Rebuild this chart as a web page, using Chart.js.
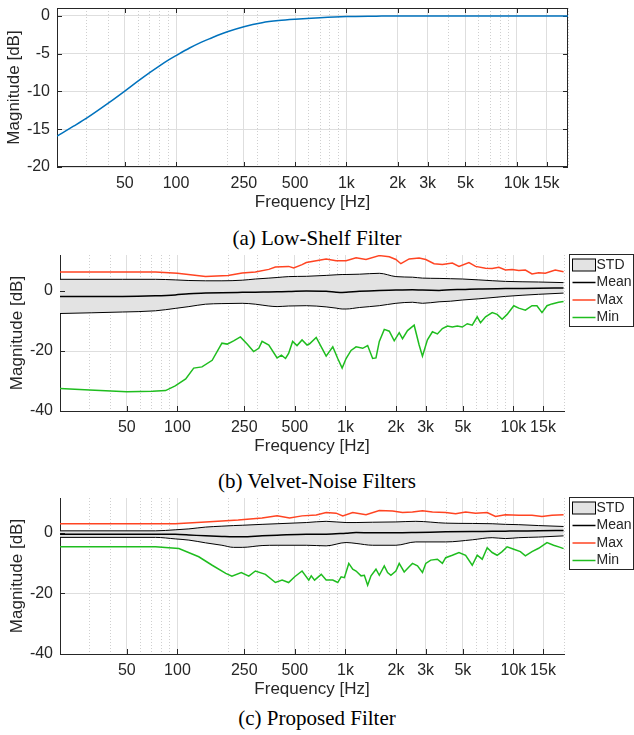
<!DOCTYPE html>
<html>
<head>
<meta charset="utf-8">
<script src="https://cdn.jsdelivr.net/npm/chart.js@4.4.1/dist/chart.umd.min.js"></script>
<style>
  html, body { margin: 0; padding: 0; background: #fff; }
  #page { position: relative; width: 634px; height: 735px; overflow: hidden; background: #fff; }
  .plot { position: absolute; left: 0; }
  .caption { position: absolute; left: 0; width: 634px; text-align: center; font-family: "Liberation Serif", "DejaVu Serif", serif; font-size: 21px; line-height: 24px; color: #000; }
</style>
</head>
<body>
<div id="page">
  <canvas class="plot" id="chart-a" width="634" height="215" style="top:0px"></canvas>
  <div class="caption" style="top:226px">(a) Low-Shelf Filter</div>
  <canvas class="plot" id="chart-b" width="634" height="214" style="top:245px"></canvas>
  <div class="caption" style="top:469px">(b) Velvet-Noise Filters</div>
  <canvas class="plot" id="chart-c" width="634" height="212" style="top:490px"></canvas>
  <div class="caption" style="top:706px">(c) Proposed Filter</div>
</div>
<script>
// axis ticks (Hz)
const majorTicks = [50, 100, 250, 500, 1000, 2000, 3000, 5000, 10000, 15000];
const majorLabels = ['50', '100', '250', '500', '1k', '2k', '3k', '5k', '10k', '15k'];
const minorTicks = [20, 30, 40, 60, 70, 80, 90, 200, 300, 400, 600, 700, 800, 900,
  4000, 6000, 7000, 8000, 9000, 20000];
const shelfYTicks = [-20, -15, -10, -5, 0];
const spreadYTicks = [-40, -20, 0];

// (a) low-shelf filter
const shelfFreq = [20, 25, 30, 40, 50, 60, 70, 80, 90, 100, 120, 140, 160, 200, 250, 320, 400, 500, 700, 1000, 1500, 2000, 5000, 20000];
const shelfMag = [-15.9, -14.6, -13.5, -11.55, -9.95, -8.6, -7.5, -6.6, -5.85, -5.25, -4.25, -3.5, -2.95, -2.1, -1.42, -0.9, -0.62, -0.44, -0.24, -0.09, -0.03, 0, 0, 0];

// (b) velvet-noise filters
const vnStdFreq = [20, 47, 74, 97, 117, 147, 184, 243, 291, 350, 392, 459, 585, 768, 880, 956, 1009, 1211, 1591, 1997, 2507, 2874, 3608, 4229, 4962, 6229, 8966, 14130, 19880];
const vnStdUpper = [3.9, 3.9, 3.9, 3.7, 3.5, 3.4, 3.4, 3.6, 4.0, 4.3, 4.5, 4.8, 4.9, 5.2, 5.4, 5.5, 5.5, 5.6, 5.9, 4.8, 4.6, 4.3, 4.2, 4.1, 4.0, 3.7, 3.2, 3.0, 2.8];
const vnMean = [-1.8, -1.8, -1.6, -1.3, -0.9, -0.7, -0.55, -0.45, -0.4, -0.3, -0.25, -0.2, 0, -0.1, -0.4, -0.5, -0.45, -0.1, 0.2, 0.3, 0.45, 0.3, 0.2, 0.4, 0.5, 0.7, 0.8, 0.9, 1.0];
const vnStdLower = [-7.5, -7.0, -6.6, -5.8, -5.2, -4.4, -4.2, -4.1, -4.4, -5.0, -5.2, -5.0, -4.9, -5.3, -5.7, -6.0, -6.0, -5.5, -4.9, -4.1, -3.75, -4.1, -3.6, -3.4, -3.0, -2.6, -1.8, -1.1, -0.7];
const vnMaxFreq = [20, 74, 100, 147, 200, 243, 291, 350, 383, 459, 492, 552, 585, 670, 768, 880, 1009, 1157, 1326, 1591, 1824, 1997, 2138, 2395, 2746, 3008, 3371, 3777, 4329, 4741, 5436, 5951, 6823, 7474, 8185, 8966, 9820, 10760, 11780, 12900, 14130, 15480, 17740, 19880];
const vnMax = [6.3, 6.3, 5.9, 4.8, 5.2, 6.0, 6.3, 7.2, 8.0, 8.2, 7.7, 8.8, 9.5, 10.1, 10.7, 10.1, 10.1, 11.1, 10.5, 11.8, 11.4, 10.5, 9.1, 10.7, 11.0, 10.5, 9.1, 8.8, 9.3, 8.2, 9.5, 8.2, 7.6, 7.5, 7.9, 7.0, 7.2, 6.8, 7.0, 5.7, 6.1, 5.9, 7.0, 6.4];
const vnMinFreq = [20, 30, 50, 71, 85, 97, 112, 125, 140, 161, 184, 198, 216, 237, 260, 284, 305, 319, 350, 392, 416, 440, 459, 485, 515, 552, 591, 612, 670, 718, 768, 841, 900, 956, 1009, 1080, 1157, 1267, 1356, 1452, 1520, 1591, 1703, 1824, 1952, 2090, 2187, 2342, 2565, 2746, 2874, 3077, 3295, 3527, 3777, 4044, 4329, 4634, 4962, 5312, 5687, 6088, 6372, 6823, 7474, 8002, 8566, 9173, 10050, 10760, 11780, 12900, 13800, 14790, 15840, 16950, 18570, 19880];
const vnMin = [-32.5, -33.0, -33.6, -33.4, -33.2, -31.6, -29.3, -25.7, -25.3, -23.1, -17.4, -17.7, -16.6, -15.3, -17.7, -20.2, -19.1, -16.8, -18.0, -22.3, -21.4, -22.5, -20.8, -16.8, -18.2, -16.3, -18.0, -17.6, -15.5, -18.6, -21.7, -18.6, -22.5, -25.7, -22.5, -19.8, -18.6, -19.1, -18.2, -22.5, -22.3, -16.8, -12.8, -13.4, -16.6, -13.9, -15.9, -13.2, -11.4, -18.0, -21.7, -16.3, -13.6, -14.3, -12.5, -11.7, -12.0, -11.7, -12.0, -10.9, -11.4, -8.6, -10.6, -8.6, -7.2, -7.8, -9.4, -7.8, -4.9, -5.7, -6.4, -4.9, -4.9, -7.2, -4.9, -4.3, -3.75, -3.5];

// (c) proposed filter
const pfStdFreq = [20, 74, 97, 117, 147, 184, 216, 243, 319, 392, 585, 768, 1009, 1157, 1452, 1997, 2624, 3952, 5687, 7474, 8966, 10760, 14130, 19880];
const pfStdUpper = [0.66, 0.66, 1.0, 1.3, 1.9, 2.2, 2.4, 2.5, 2.8, 3.0, 3.4, 3.8, 3.4, 3.4, 3.5, 3.6, 3.8, 3.2, 3.1, 3.0, 2.8, 2.7, 2.4, 2.1];
const pfMean = [-0.44, -0.44, -0.5, -0.7, -1.0, -1.2, -1.3, -1.3, -1.0, -0.8, -0.44, -0.44, -0.1, 0.1, 0.0, 0.0, 0.1, 0.33, 0.45, 0.5, 0.55, 0.6, 0.7, 0.77];
const pfStdLower = [-1.5, -1.5, -2.0, -2.4, -3.3, -4.1, -4.8, -4.8, -4.2, -4.1, -4.1, -4.3, -3.2, -3.5, -4.1, -4.1, -3.0, -3.0, -2.3, -1.6, -1.9, -1.6, -1.4, -1.0];
const pfMaxFreq = [20, 97, 147, 230, 319, 392, 465, 552, 670, 768, 880, 964, 1105, 1326, 1591, 1909, 2187, 2507, 2874, 3295, 3952, 4530, 5193, 5951, 6980, 7822, 8966, 10760, 12900, 14790, 16950, 19880];
const pfMax = [3.0, 3.0, 3.6, 4.2, 4.9, 5.6, 4.9, 5.6, 5.9, 6.7, 6.5, 5.6, 6.7, 6.0, 7.4, 7.2, 6.7, 6.9, 7.3, 6.9, 6.7, 6.3, 6.9, 6.5, 6.7, 5.4, 6.0, 5.8, 5.8, 5.4, 5.8, 6.0];
const pfMinFreq = [20, 74, 102, 134, 161, 194, 211, 240, 266, 291, 334, 383, 420, 459, 499, 552, 605, 626, 655, 718, 768, 841, 900, 943, 986, 1047, 1105, 1157, 1239, 1296, 1356, 1420, 1520, 1591, 1703, 1782, 1865, 1997, 2090, 2238, 2395, 2507, 2685, 2874, 3008, 3220, 3527, 3777, 3952, 4329, 4741, 5193, 5687, 6088, 6519, 6980, 7474, 8002, 8566, 9173, 10050, 11000, 11780, 12900, 14130, 15840, 17340, 19000, 19880];
const pfMin = [-4.6, -4.6, -5.2, -7.9, -10.7, -13.4, -14.3, -13.1, -14.3, -12.6, -13.7, -16.4, -15.6, -16.4, -14.5, -12.6, -15.6, -14.2, -15.6, -13.7, -15.6, -15.6, -16.4, -14.5, -14.8, -10.1, -12.0, -12.6, -14.2, -14.0, -17.3, -14.2, -12.0, -14.0, -10.9, -13.1, -14.0, -12.6, -10.1, -12.9, -11.2, -10.1, -10.9, -13.1, -10.1, -9.0, -8.7, -10.1, -8.2, -7.4, -6.5, -7.4, -10.7, -7.4, -8.7, -4.9, -6.5, -7.4, -6.2, -4.6, -5.4, -6.2, -7.6, -6.2, -5.1, -3.2, -4.1, -4.8, -5.2];

const textColor = '#262626';
const axisColor = '#262626';
const majorGrid = '#dedede';
const minorGrid = '#cfcfcf';
const stdFill = '#e3e3e3';
const maxColor = '#ff4422';
const minColor = '#1fbd1f';
const fontFamily = '"Liberation Sans", Arial, Helvetica, sans-serif';

const pts = (fs, vs) => fs.map((f, i) => ({ x: f, y: vs[i] }));
const isMajor = v => majorTicks.indexOf(v) >= 0;

// inward tick marks, and the closed box for plot (a)
const framePlugin = {
  id: 'frame',
  beforeDatasetsDraw(chart, args, opts) {
    const { ctx, chartArea: a, scales: { x, y } } = chart;
    ctx.save();
    ctx.strokeStyle = axisColor;
    ctx.lineWidth = 1;
    ctx.beginPath();
    majorTicks.forEach(v => {
      const px = Math.round(x.getPixelForValue(v)) + 0.5;
      ctx.moveTo(px, a.bottom); ctx.lineTo(px, a.bottom - 5);
      if (opts.box) { ctx.moveTo(px, a.top); ctx.lineTo(px, a.top + 5); }
    });
    y.ticks.forEach(t => {
      const py = Math.round(y.getPixelForValue(t.value)) + 0.5;
      ctx.moveTo(a.left, py); ctx.lineTo(a.left + 5, py);
      if (opts.box) { ctx.moveTo(a.right, py); ctx.lineTo(a.right - 5, py); }
    });
    ctx.stroke();
    if (opts.box) {
      ctx.strokeRect(Math.round(a.left) + 0.5, Math.round(a.top) + 0.5, Math.round(a.width) - 1, Math.round(a.height) - 1);
    }
    ctx.restore();
  }
};

// legend box to the right of the plot
const sideLegend = {
  id: 'sideLegend',
  afterDraw(chart, args, opts) {
    if (!opts.display) return;
    const { ctx, chartArea: a } = chart;
    const x0 = Math.round(a.right) + 5.5, y0 = Math.round(a.top) - 0.5;
    ctx.save();
    ctx.fillStyle = '#fff';
    ctx.fillRect(x0, y0, 64, 72);
    ctx.strokeStyle = axisColor;
    ctx.lineWidth = 1;
    ctx.strokeRect(x0, y0, 64, 72);
    ctx.font = '14px ' + fontFamily;
    ctx.textBaseline = 'middle';
    let row = 0;
    chart.data.datasets.forEach(ds => {
      if (!ds.label) return;
      const cy = y0 + 10.5 + row * 17.5;
      if (ds.fill) {
        ctx.fillStyle = ds.backgroundColor;
        ctx.fillRect(x0 + 3, cy - 6, 23, 12);
        ctx.strokeStyle = ds.borderColor;
        ctx.strokeRect(x0 + 3, cy - 6, 23, 12);
      } else {
        ctx.strokeStyle = ds.borderColor;
        ctx.lineWidth = 1.5;
        ctx.beginPath();
        ctx.moveTo(x0 + 3, cy); ctx.lineTo(x0 + 26, cy);
        ctx.stroke();
        ctx.lineWidth = 1;
      }
      ctx.fillStyle = textColor;
      ctx.fillText(ds.label, x0 + 27, cy);
      row++;
    });
    ctx.restore();
  }
};

function makeFreqChart(id, cfg) {
  return new Chart(document.getElementById(id), {
    type: 'line',
    data: { datasets: cfg.datasets },
    options: {
      responsive: false,
      animation: false,
      events: [],
      layout: { padding: { top: cfg.padTop, right: cfg.padRight, bottom: 0, left: 0 } },
      elements: { point: { radius: 0 }, line: { tension: 0 } },
      plugins: {
        legend: { display: false },
        tooltip: { enabled: false },
        filler: { drawTime: 'beforeDatasetsDraw' },
        frame: { box: cfg.box },
        sideLegend: { display: cfg.legend }
      },
      scales: {
        x: {
          type: 'logarithmic',
          min: 20,
          max: 20000,
          afterBuildTicks: s => {
            s.ticks = majorTicks.concat(minorTicks).sort((p, q) => p - q).map(v => ({ value: v, major: false }));
          },
          afterFit: s => { s.height = 48; s.paddingLeft = 0; s.paddingRight = 0; },
          ticks: {
            autoSkip: false, maxRotation: 0, minRotation: 0, padding: 7,
            color: textColor, font: { family: fontFamily, size: 16 },
            callback: v => isMajor(v) ? majorLabels[majorTicks.indexOf(v)] : ''
          },
          grid: {
            drawTicks: false,
            color: c => (c.tick && isMajor(c.tick.value)) ? majorGrid : minorGrid
          },
          border: {
            display: !cfg.box, color: axisColor, width: 1,
            dash: c => (c.tick && !isMajor(c.tick.value)) ? [1, 2] : []
          },
          title: {
            display: true, text: 'Frequency [Hz]', color: textColor,
            font: { family: fontFamily, size: 17 }, padding: { top: 0, bottom: 2 }
          }
        },
        y: {
          min: cfg.yMin,
          max: cfg.yMax,
          afterBuildTicks: s => { s.ticks = cfg.yTicks.map(v => ({ value: v })); },
          afterFit: s => { s.width = cfg.yWidth; s.paddingTop = 0; s.paddingBottom = 0; },
          ticks: {
            padding: 7, color: textColor, font: { family: fontFamily, size: 16 },
            callback: v => String(v)
          },
          grid: { drawTicks: false, color: majorGrid },
          border: { display: !cfg.box, color: axisColor, width: 1 },
          title: {
            display: true, text: 'Magnitude [dB]', color: textColor,
            font: { family: fontFamily, size: 17 }, padding: { top: cfg.yTitlePad, bottom: 0 }
          }
        }
      }
    },
    plugins: [framePlugin, sideLegend]
  });
}

function spreadSets(stdFreq, upper, mean, lower, maxFreq, max, minFreq, min) {
  return [
    { label: 'STD', data: pts(stdFreq, upper), borderColor: '#000', borderWidth: 1, backgroundColor: stdFill, fill: '+1', cubicInterpolationMode: 'monotone' },
    { label: '', data: pts(stdFreq, lower), borderColor: '#000', borderWidth: 1, fill: false, cubicInterpolationMode: 'monotone' },
    { label: 'Mean', data: pts(stdFreq, mean), borderColor: '#000', borderWidth: 1.5, fill: false, cubicInterpolationMode: 'monotone' },
    { label: 'Max', data: pts(maxFreq, max), borderColor: maxColor, borderWidth: 1.5, fill: false },
    { label: 'Min', data: pts(minFreq, min), borderColor: minColor, borderWidth: 1.5, fill: false }
  ];
}

makeFreqChart('chart-a', {
  padTop: 8, padRight: 66, yWidth: 57, yTitlePad: 4, box: true, legend: false,
  yMin: -20, yMax: 1.05, yTicks: shelfYTicks,
  datasets: [{ label: '', data: pts(shelfFreq, shelfMag), borderColor: '#0072bd', borderWidth: 1.5, fill: false, cubicInterpolationMode: 'monotone' }]
});

makeFreqChart('chart-b', {
  padTop: 10, padRight: 70, yWidth: 60, yTitlePad: 7, box: false, legend: true,
  yMin: -40, yMax: 12, yTicks: spreadYTicks,
  datasets: spreadSets(vnStdFreq, vnStdUpper, vnMean, vnStdLower, vnMaxFreq, vnMax, vnMinFreq, vnMin)
});

makeFreqChart('chart-c', {
  padTop: 8, padRight: 70, yWidth: 60, yTitlePad: 7, box: false, legend: true,
  yMin: -40, yMax: 11.5, yTicks: spreadYTicks,
  datasets: spreadSets(pfStdFreq, pfStdUpper, pfMean, pfStdLower, pfMaxFreq, pfMax, pfMinFreq, pfMin)
});
</script>
</body>
</html>
